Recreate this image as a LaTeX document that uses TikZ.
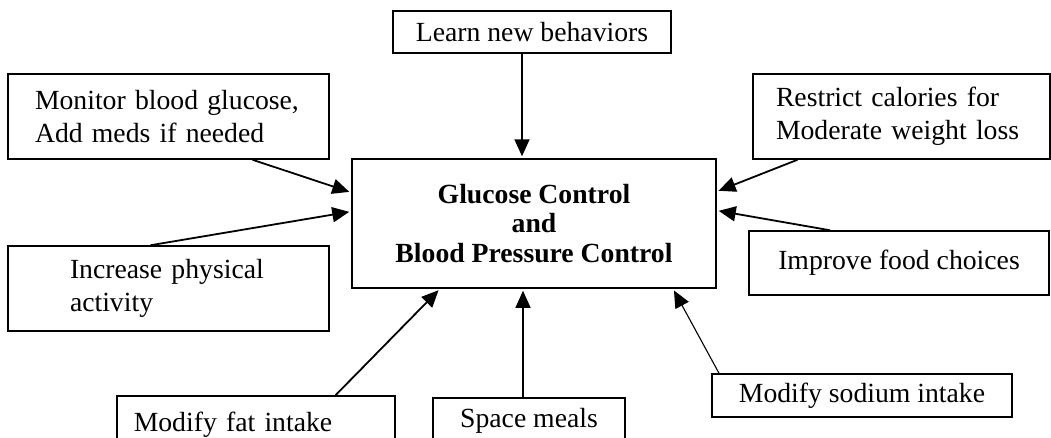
\documentclass[tikz,border=0pt]{standalone}
\usepackage{fontspec}
\setmainfont{Liberation Serif}
\usepackage{tikz}
\usetikzlibrary{arrows.meta}

\tikzset{
  factor/.style={draw, line width=1.5pt, font=\fontsize{27.7}{33}\selectfont, inner sep=0pt},
  feed/.style={-{Triangle[length=17pt,width=15pt]}, line width=1.8pt, shorten >=2pt},
}

\begin{document}
\begin{tikzpicture}[x=1pt,y=-1pt]
\useasboundingbox (0,0) rectangle (1051,437);
\clip (0,0) rectangle (1051,437);

% Central goal
\node[factor, minimum width=364pt, minimum height=129pt, align=center,
      font=\fontsize{27.7}{29.5}\selectfont\bfseries] (ctrl) at (534,223.5)
      {Glucose Control\\and\\Blood Pressure Control};

% Surrounding factors
\node[factor, minimum width=278pt, minimum height=42pt] (learn) at (532,32) {Learn new behaviors};
\node[factor, text width=267pt, inner xsep=27pt, minimum height=85pt, align=left] (monitor) at (168.5,116.5)
      {Monitor blood glucose,\\Add meds if needed};
\node[factor, text width=251pt, inner xsep=23pt, minimum height=85pt, align=left] (restrict) at (901.5,116.5)
      {Restrict calories for\\Moderate weight loss};
\node[factor, text width=197pt, inner xsep=62pt, minimum height=85pt, align=left] (increase) at (168.5,288.5)
      {Increase physical\\activity};
\node[factor, minimum width=300pt, minimum height=64pt] (improve) at (899,263) {Improve food choices};
\node[factor, minimum width=300pt, minimum height=43pt] (sodium) at (862,395.5) {Modify sodium intake};
\node[factor, anchor=north west, text width=244pt, inner xsep=17pt, inner ysep=16pt, align=left] (fat) at (116,395)
      {Modify fat intake};
\node[factor, anchor=north, minimum width=192pt, inner ysep=11pt] (space) at (529,397) {Space meals};

% Arrows into the goal
\draw[feed] ([xshift=-10pt]learn.south) -- ([xshift=-12pt]ctrl.north);
\draw[feed] ([xshift=84pt]monitor.south) -- ([yshift=31pt]ctrl.west);
\draw[feed] ([xshift=-18pt]increase.north) -- ([yshift=12pt]ctrl.west);
\draw[feed] ([xshift=-104pt]restrict.south) -- ([yshift=32pt]ctrl.east);
\draw[feed] ([xshift=-69pt]improve.north) -- ([yshift=13pt]ctrl.east);
\draw[feed] ([xshift=80pt]fat.north) -- ([xshift=-94pt]ctrl.south);
\draw[feed, line width=1.1pt] ([xshift=-6pt]space.north) -- ([xshift=-11pt]ctrl.south);
\draw[feed, line width=1.1pt] ([xshift=-143pt]sodium.north) -- ([xshift=139pt]ctrl.south);
\end{tikzpicture}
\end{document}
